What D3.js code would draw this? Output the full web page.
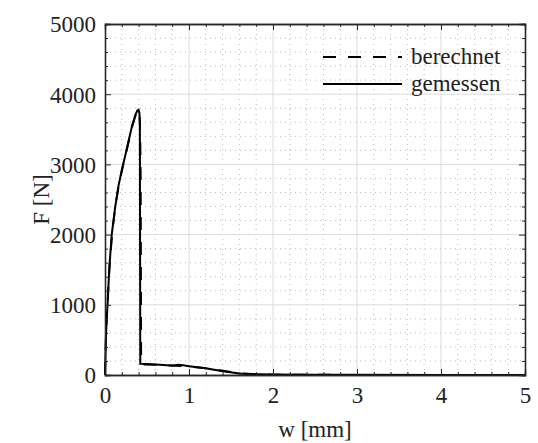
<!DOCTYPE html>
<html lang="de">
<head>
  <meta charset="UTF-8">
  <title>Kraft-Verschiebung</title>
  <style>
    body { margin: 0; background: #fff; }
  </style>
</head>
<body>
<svg class="chart"></svg>

<script src="https://d3js.org/d3.v7.min.js"></script>
<script>
  // gemessen (measured) curve
  const wMeas = [0, 0.005, 0.012, 0.02, 0.032, 0.05, 0.08, 0.12, 0.16, 0.2, 0.24, 0.28, 0.32, 0.36, 0.385, 0.40, 0.41, 0.415, 0.42, 0.5, 0.6, 0.7, 0.8, 0.87, 0.93, 1.0, 1.1, 1.2, 1.3, 1.45, 1.6, 1.7, 1.85, 2.0, 2.5, 3.0, 4.0, 5.0];
  const fMeas = [0, 250, 550, 800, 1030, 1500, 2000, 2380, 2690, 2920, 3120, 3330, 3540, 3700, 3770, 3780, 3730, 3550, 160, 155, 150, 143, 132, 147, 138, 126, 110, 95, 75, 45, 22, 14, 9, 6, 3, 2, 1, 0];

  // berechnet (computed) curve
  const wCalc = [0, 0.01, 0.025, 0.04, 0.06, 0.09, 0.13, 0.17, 0.21, 0.25, 0.29, 0.33, 0.37, 0.395, 0.41, 0.415, 0.42, 0.425, 0.43, 0.6, 0.8, 1.0, 1.2, 1.4, 1.6, 1.8, 2.0, 3.0, 5.0];
  const fCalc = [0, 500, 900, 1250, 1650, 2080, 2460, 2740, 2960, 3160, 3370, 3570, 3720, 3770, 3740, 3600, 3300, 2800, 150, 145, 135, 120, 95, 60, 25, 10, 5, 1, 0];

  const xTicks = [0, 1, 2, 3, 4, 5];
  const yTicks = [0, 1000, 2000, 3000, 4000, 5000];
  const legendLabels = ['berechnet', 'gemessen'];

  const FONT = "'Liberation Serif', 'Times New Roman', serif";

  const width = 538, height = 443;
  const margin = { top: 24, right: 13, bottom: 68, left: 105 };
  const iw = width - margin.left - margin.right;
  const ih = height - margin.top - margin.bottom;

  const svg = d3.select('.chart')
    .attr('width', width)
    .attr('height', height);

  const g = svg.append('g')
    .attr('transform', `translate(${margin.left},${margin.top})`);

  const x = d3.scaleLinear().domain([0, 5]).range([0, iw]);
  const y = d3.scaleLinear().domain([0, 5000]).range([ih, 0]);

  const xMinor = d3.range(0, 5.0001, 0.2).filter(v => Math.abs(v - Math.round(v)) > 1e-6);
  const yMinor = d3.range(0, 5000.1, 200).filter(v => v % 1000 !== 0);

  // minor grid (dotted)
  g.append('g').selectAll('line').data(xMinor).join('line')
    .attr('x1', d => x(d)).attr('x2', d => x(d))
    .attr('y1', 0).attr('y2', ih)
    .attr('stroke', '#bdbdbd').attr('stroke-width', 1)
    .attr('stroke-dasharray', '1,4');
  g.append('g').selectAll('line').data(yMinor).join('line')
    .attr('y1', d => y(d)).attr('y2', d => y(d))
    .attr('x1', 0).attr('x2', iw)
    .attr('stroke', '#bdbdbd').attr('stroke-width', 1)
    .attr('stroke-dasharray', '1,4');

  // major grid
  g.append('g').selectAll('line').data(xTicks.slice(1, -1)).join('line')
    .attr('x1', d => x(d)).attr('x2', d => x(d))
    .attr('y1', 0).attr('y2', ih)
    .attr('stroke', '#dcdcdc').attr('stroke-width', 1);
  g.append('g').selectAll('line').data(yTicks.slice(1, -1)).join('line')
    .attr('y1', d => y(d)).attr('y2', d => y(d))
    .attr('x1', 0).attr('x2', iw)
    .attr('stroke', '#dcdcdc').attr('stroke-width', 1);

  // curves
  const line = d3.line().x(d => x(d[0])).y(d => y(d[1]));

  g.append('path')
    .datum(wCalc.map((w, i) => [w, fCalc[i]]))
    .attr('d', line)
    .attr('fill', 'none').attr('stroke', '#000').attr('stroke-width', 2)
    .attr('stroke-dasharray', '13,12');

  g.append('path')
    .datum(wMeas.map((w, i) => [w, fMeas[i]]))
    .attr('d', line)
    .attr('fill', 'none').attr('stroke', '#000').attr('stroke-width', 2);

  // axes with inward ticks on all sides
  const axCol = '#262626';
  const bx = g.append('g').attr('transform', `translate(0,${ih})`)
    .call(d3.axisBottom(x).tickValues(xTicks).tickSize(-6).tickFormat(d3.format('d')));
  g.append('g').attr('transform', `translate(0,${ih})`)
    .call(d3.axisBottom(x).tickValues(xMinor).tickSize(-3).tickFormat(''));
  g.append('g').call(d3.axisTop(x).tickValues(xTicks).tickSize(-6).tickFormat(''));
  g.append('g').call(d3.axisTop(x).tickValues(xMinor).tickSize(-3).tickFormat(''));

  const ly = g.append('g')
    .call(d3.axisLeft(y).tickValues(yTicks).tickSize(-6).tickFormat(d3.format('d')));
  g.append('g').call(d3.axisLeft(y).tickValues(yMinor).tickSize(-3).tickFormat(''));
  g.append('g').attr('transform', `translate(${iw},0)`)
    .call(d3.axisRight(y).tickValues(yTicks).tickSize(-6).tickFormat(''));
  g.append('g').attr('transform', `translate(${iw},0)`)
    .call(d3.axisRight(y).tickValues(yMinor).tickSize(-3).tickFormat(''));

  g.selectAll('.domain').attr('stroke', axCol).attr('stroke-width', 1.3);
  g.selectAll('.tick line').attr('stroke', axCol);

  bx.selectAll('text')
    .style('font-family', FONT).style('font-size', '23px').style('fill', '#222')
    .attr('y', 12).attr('dy', '0.71em');
  ly.selectAll('text')
    .style('font-family', FONT).style('font-size', '23px').style('fill', '#222')
    .attr('x', -9).attr('dy', '0.34em');

  // axis labels
  svg.append('text')
    .style('font-family', FONT).style('font-size', '23px').style('fill', '#222')
    .attr('x', margin.left + iw / 2).attr('y', 437)
    .attr('text-anchor', 'middle')
    .text('w [mm]');

  svg.append('text')
    .style('font-family', FONT).style('font-size', '23px').style('fill', '#222')
    .attr('transform', `translate(49,${margin.top + ih / 2}) rotate(-90)`)
    .attr('text-anchor', 'middle')
    .text('F [N]');

  // legend (no box)
  const legend = g.append('g');
  const legendY = [33, 60];
  legendLabels.forEach((lab, i) => {
    legend.append('line')
      .attr('x1', 218).attr('x2', 297)
      .attr('y1', legendY[i]).attr('y2', legendY[i])
      .attr('stroke', '#000').attr('stroke-width', 2)
      .attr('stroke-dasharray', i === 0 ? '13,12' : null);
    legend.append('text')
      .style('font-family', FONT).style('font-size', '23px').style('fill', '#222')
      .attr('x', 306).attr('y', legendY[i])
      .attr('dy', '0.32em')
      .text(lab);
  });
</script>
</body>
</html>
